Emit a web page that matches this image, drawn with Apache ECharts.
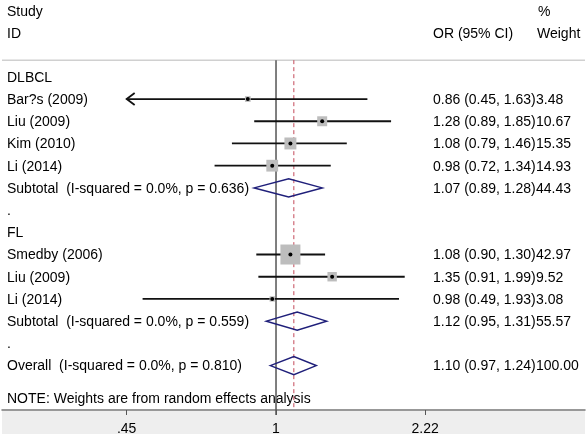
<!DOCTYPE html>
<html>
<head>
<meta charset="utf-8">
<script src="https://cdn.jsdelivr.net/npm/echarts@6/dist/echarts.min.js"></script>
<style>
html,body{margin:0;padding:0;background:#fff}
#main{width:586px;height:442px}
</style>
</head>
<body>
<div id="main"></div>
<script>
// rows of the forest plot, top to bottom
var studyNames = ['DLBCL', 'Bar?s (2009)', 'Liu (2009)', 'Kim (2010)', 'Li (2014)',
	'Subtotal  (I-squared = 0.0%, p = 0.636)', '.', 'FL', 'Smedby (2006)', 'Liu (2009)', 'Li (2014)',
	'Subtotal  (I-squared = 0.0%, p = 0.559)', '.', 'Overall  (I-squared = 0.0%, p = 0.810)'];
var rowKind = ['group', 'study', 'study', 'study', 'study', 'sub', 'gap', 'group', 'study', 'study', 'study', 'sub', 'gap', 'sub'];
var orVals = [null, 0.86, 1.28, 1.08, 0.98, 1.07, null, null, 1.08, 1.35, 0.98, 1.12, null, 1.10];
var ciLow = [null, 0.45, 0.89, 0.79, 0.72, 0.89, null, null, 0.90, 0.91, 0.49, 0.95, null, 0.97];
var ciHigh = [null, 1.63, 1.85, 1.46, 1.34, 1.28, null, null, 1.30, 1.99, 1.93, 1.31, null, 1.24];
var weightVals = [null, 3.48, 10.67, 15.35, 14.93, 44.43, null, null, 42.97, 9.52, 3.08, 55.57, null, 100.00];
var tickVals = [0.45, 1, 2.22];
var tickLabels = ['.45', '1', '2.22'];
var overallOR = 1.10;
var noteText = 'NOTE: Weights are from random effects analysis';

var FONT = '14px "Liberation Sans", Arial, sans-serif';
var TXT = '#000';

// biggest study weight -> biggest square
var maxW = 0;
rowKind.forEach(function(k, i){ if (k == 'study' && weightVals[i] > maxW) maxW = weightVals[i]; });

function rowItem(params, api){
	var i = params.dataIndex;
	var y = api.coord([0, i])[1];
	var kids = [];
	kids.push({type: 'text', style: {text: studyNames[i], x: 7, y: y + 1, verticalAlign: 'middle', font: FONT, fill: TXT}});
	if (orVals[i] == null) return {type: 'group', children: kids};

	var xc = api.coord([Math.log(orVals[i]), i])[0];
	var xl = api.coord([Math.log(Math.max(ciLow[i], tickVals[0])), i])[0];
	var xh = api.coord([Math.log(ciHigh[i]), i])[0];

	if (rowKind[i] == 'study'){
		kids.push({type: 'line', shape: {x1: xl, y1: y, x2: xh, y2: y}, style: {stroke: '#111', lineWidth: 1.8}, z2: 2});
		if (ciLow[i] <= tickVals[0]){
			//左端被截断 画箭头
			kids.push({type: 'polyline', shape: {points: [[xl + 8, y - 6], [xl, y], [xl + 8, y + 6]]},
				style: {stroke: '#111', lineWidth: 1.8, fill: null}, z2: 2});
		}
		var s = 20 * Math.sqrt(weightVals[i] / maxW);
		kids.push({type: 'rect', shape: {x: xc - s / 2, y: y - s / 2, width: s, height: s}, style: {fill: '#bdbdbd'}, z2: 3});
		kids.push({type: 'circle', shape: {cx: xc, cy: y, r: 2}, style: {fill: '#000'}, z2: 4});
	} else {
		kids.push({type: 'polygon', shape: {points: [[xl, y], [xc, y - 9], [xh, y], [xc, y + 9]]},
			style: {stroke: '#1f1f7a', lineWidth: 1.5, fill: null}, z2: 3});
	}
	var orStr = orVals[i].toFixed(2) + ' (' + ciLow[i].toFixed(2) + ', ' + ciHigh[i].toFixed(2) + ')';
	kids.push({type: 'text', style: {text: orStr, x: 433, y: y + 1, verticalAlign: 'middle', font: FONT, fill: TXT}});
	kids.push({type: 'text', style: {text: weightVals[i].toFixed(2), x: 536, y: y + 1, verticalAlign: 'middle', font: FONT, fill: TXT}});
	return {type: 'group', children: kids};
}

// 竖线: 无效线 OR=1 和 合并效应虚线
function refItem(params, api){
	var top = api.coord([0, -0.75])[1];
	var bot = api.coord([0, 15])[1];
	var x1 = api.coord([0, 0])[0];
	var xo = api.coord([Math.log(overallOR), 0])[0];
	var left = api.coord([-1.465, 0])[0];
	var right = api.coord([1.652, 0])[0];
	return {type: 'group', children: [
		{type: 'line', shape: {x1: left, y1: top, x2: right, y2: top}, style: {stroke: '#d0d0d0', lineWidth: 1.5}},
		{type: 'line', shape: {x1: x1, y1: top, x2: x1, y2: bot + 5}, style: {stroke: '#555', lineWidth: 1.5}},
		{type: 'line', shape: {x1: xo, y1: top, x2: xo, y2: bot}, style: {stroke: '#c4495a', lineWidth: 1, lineDash: [4, 3]}}
	]};
}

var myChart = echarts.init(document.getElementById('main'));
var option = {
	animation: false,
	backgroundColor: '#fff',
	grid: {left: 2, right: 1, top: 0, bottom: 32},
	xAxis: {
		type: 'value',
		min: -1.465,
		max: 1.652,
		splitLine: {show: false},
		axisLine: {onZero: false, lineStyle: {color: '#777', width: 1.5}},
		axisTick: {customValues: tickVals.map(Math.log), length: 5, lineStyle: {color: '#555'}},
		axisLabel: {
			customValues: tickVals.map(Math.log),
			margin: 12,
			fontSize: 14,
			fontFamily: '"Liberation Sans", Arial, sans-serif',
			color: TXT,
			formatter: function(v){
				var best = 0;
				tickVals.forEach(function(t, k){
					if (Math.abs(Math.log(t) - v) < Math.abs(Math.log(tickVals[best]) - v)) best = k;
				});
				return tickLabels[best];
			}
		}
	},
	yAxis: {type: 'value', inverse: true, min: -3.459, max: 15, show: false},
	graphic: [
		{type: 'rect', z: -10, shape: {x: 2, y: 411, width: 583, height: 23}, style: {fill: '#eeeeee'}},
		{type: 'text', style: {text: 'Study', x: 7, y: 12, verticalAlign: 'middle', font: FONT, fill: TXT}},
		{type: 'text', style: {text: 'ID', x: 7, y: 34, verticalAlign: 'middle', font: FONT, fill: TXT}},
		{type: 'text', style: {text: 'OR (95% CI)', x: 433, y: 34, verticalAlign: 'middle', font: FONT, fill: TXT}},
		{type: 'text', style: {text: '%', x: 538, y: 12, verticalAlign: 'middle', font: FONT, fill: TXT}},
		{type: 'text', style: {text: 'Weight', x: 537, y: 34, verticalAlign: 'middle', font: FONT, fill: TXT}},
		{type: 'text', style: {text: noteText, x: 7, y: 399, verticalAlign: 'middle', font: FONT, fill: TXT}}
	],
	series: [{
		type: 'custom',
		clip: false,
		silent: true,
		renderItem: refItem,
		data: [[0]],
		z: 1
	}, {
		type: 'custom',
		clip: false,
		silent: true,
		renderItem: rowItem,
		data: studyNames.map(function(n, i){ return [i]; }),
		z: 2
	}]
};
myChart.setOption(option);
</script>
</body>
</html>
